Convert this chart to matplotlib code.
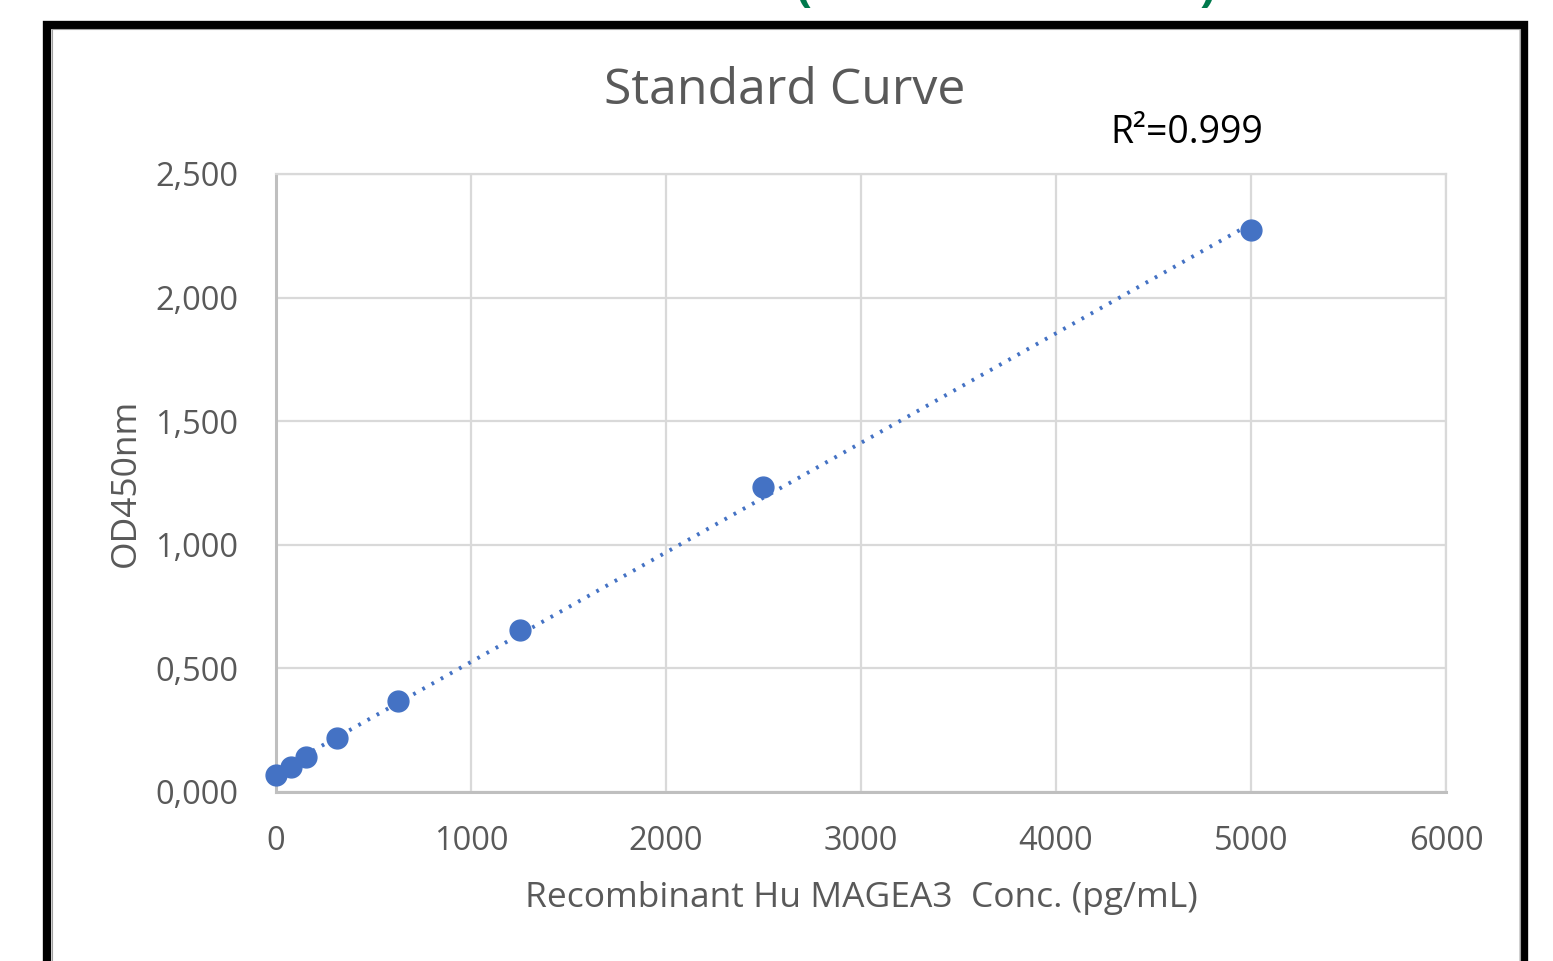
import numpy as np
import matplotlib.pyplot as plt
from matplotlib.patches import Rectangle
from matplotlib.ticker import FuncFormatter

# standard curve data
conc = [0, 78.125, 156.25, 312.5, 625, 1250, 2500, 5000]
od450 = [0.069, 0.101, 0.142, 0.219, 0.369, 0.656, 1.232, 2.273]
r2_label = "R²=0.999"

x_ticks = [0, 1000, 2000, 3000, 4000, 5000, 6000]
y_ticks = [0.0, 0.5, 1.0, 1.5, 2.0, 2.5]

blue = '#4472C4'
grey_txt = '#595959'
plt.rcParams['font.family'] = ['Open Sans', 'DejaVu Sans']

fig = plt.figure(figsize=(15.53, 9.61), dpi=100)

# black frame around the chart (runs off the bottom)
fig.patches.append(Rectangle((47 / 1553, -0.05), 1477 / 1553, 1 - 25 / 961 + 0.05,
                             transform=fig.transFigure, fill=False,
                             edgecolor='black', linewidth=6))
fig.patches.append(Rectangle((51.5 / 1553, -0.05), 1468 / 1553, 1 - 29.5 / 961 + 0.05,
                             transform=fig.transFigure, fill=False,
                             edgecolor='#A0A0A0', linewidth=0.8))

# cut-off green heading above the frame (only the bottoms of the brackets show)
fig.text(803 / 1553, 1 + 13 / 961, "(", color='#007A4D', fontsize=34,
         fontweight='bold', ha='center', va='center')
fig.text(1208 / 1553, 1 + 13 / 961, ")", color='#007A4D', fontsize=34,
         fontweight='bold', ha='center', va='center')

ax = fig.add_axes([276 / 1553, 1 - 792 / 961, 1170 / 1553, 618 / 961])

# linear trendline
slope, icpt = np.polyfit(conc, od450, 1)
xs = np.array([0, max(conc)])
ax.plot(xs, slope * xs + icpt, linestyle=(0, (0.7, 2.0)), color=blue, lw=2.8,
        dash_capstyle='butt', zorder=2)
ax.plot(conc, od450, 'o', color=blue, markersize=15, zorder=3, clip_on=False)

ax.set_xlim(0, 6000)
ax.set_ylim(0, 2.5)
ax.set_xticks(x_ticks)
ax.set_yticks(y_ticks)
ax.yaxis.set_major_formatter(FuncFormatter(lambda v, p: f"{v:.3f}".replace('.', ',')))
ax.tick_params(length=0, labelsize=23.5, labelcolor=grey_txt)
ax.tick_params(axis='x', pad=24)
ax.tick_params(axis='y', pad=27)
ax.grid(True, color='#D9D9D9', lw=1.6)
ax.set_axisbelow(True)
for s in ['top', 'right']:
    ax.spines[s].set_color('#D9D9D9')
    ax.spines[s].set_linewidth(1.6)
for s in ['left', 'bottom']:
    ax.spines[s].set_color('#BFBFBF')
    ax.spines[s].set_linewidth(2.2)

ax.set_xlabel("Recombinant Hu MAGEA3  Conc. (pg/mL)", fontsize=25.5, color=grey_txt,
              labelpad=16)
ax.set_ylabel("OD450nm", fontsize=25.5, color=grey_txt, labelpad=9)

fig.text(785 / 1553, 1 - 91 / 961, "Standard Curve", fontsize=36, color=grey_txt,
         ha='center', va='center')
fig.text(1187 / 1553, 1 - 133 / 961, r2_label, fontsize=27, color='black',
         ha='center', va='center')

fig.savefig('out.png', dpi=100)
